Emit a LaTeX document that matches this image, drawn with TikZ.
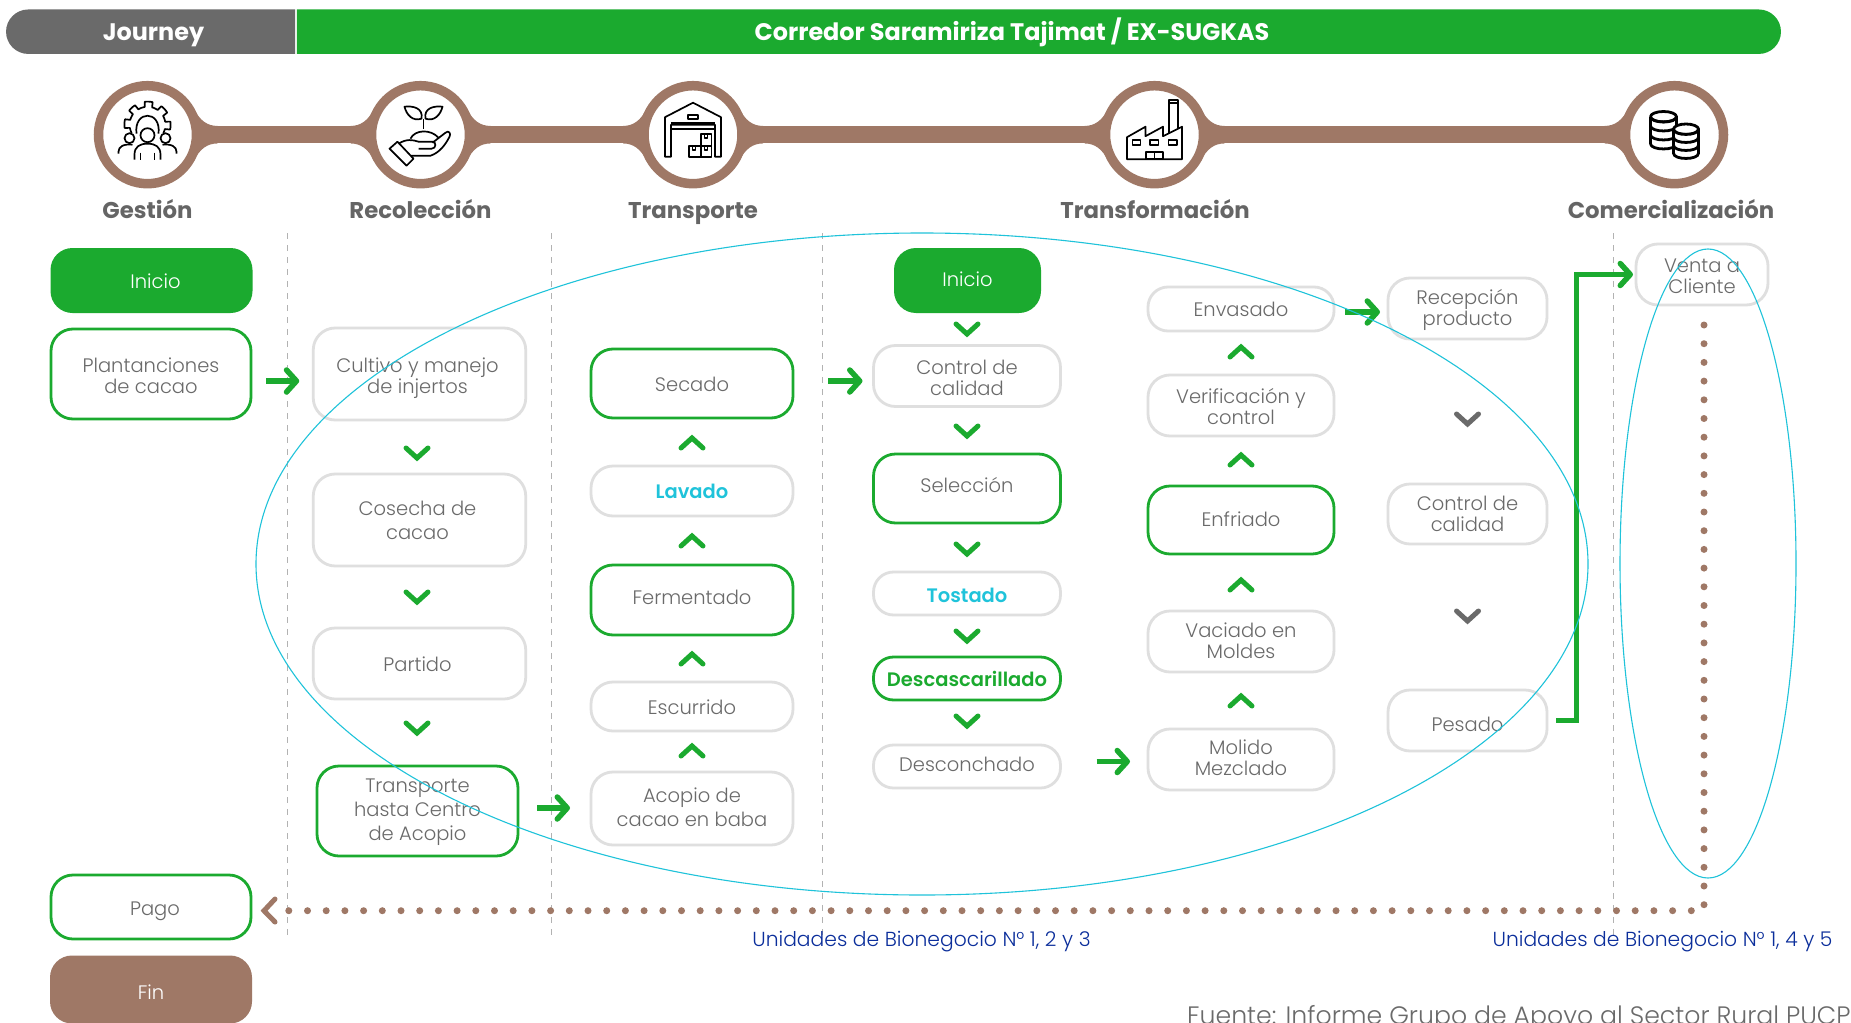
\documentclass[tikz,border=0pt]{standalone}
\usepackage{fontspec}
\setmainfont{Poppins Light}[BoldFont={Poppins SemiBold}]
\newfontface\pbold{Poppins Bold}
\usetikzlibrary{arrows.meta,shapes.misc}
\definecolor{gr}{HTML}{1BAA2F}
\definecolor{br}{HTML}{9F7866}
\definecolor{dk}{HTML}{6A6A6A}
\definecolor{tx}{HTML}{6A6A6A}
\definecolor{bd}{HTML}{DFDFDF}
\definecolor{cy}{HTML}{1FC3DA}
\definecolor{bl}{HTML}{0B2E9B}
\newsavebox{\mvb}
\newcommand{\mv}[2]{\sbox{\mvb}{\begin{tabular}{@{}c@{}}#2\end{tabular}}\raisebox{\dimexpr #1pt-3.3pt+0.5\dp\mvb-0.5\ht\mvb\relax}[0pt][0pt]{\usebox{\mvb}}}
\tikzset{
 base/.style={rectangle,rounded corners=22pt,minimum width=#1,inner sep=0pt,outer sep=0pt,align=center,text=tx,
   font=\fontsize{19.5}{21}\selectfont},
 wide/.style={font=\fontsize{19.5}{24}\selectfont},
 gbox/.style={base=#1,draw=bd,line width=2.8pt},
 vbox/.style={base=#1,draw=gr,line width=2.8pt},
 ibox/.style={base=#1,fill=gr,text=white},
 fbox/.style={base=#1,fill=br,text=white},
 stage/.style={circle,draw=br,fill=white,line width=9.5pt,minimum size=98pt,inner sep=0pt,outer sep=0pt},
 slabel/.style={font=\fontsize{22.8}{24}\pbold,text=dk!95!black,anchor=base},
 head/.style={font=\fontsize{23.9}{24}\pbold,text=white,minimum height=44.5pt,inner sep=0pt,outer sep=0pt,text height=21pt,text depth=4.2pt},
 vline/.style={draw=black!30,line width=1.6pt,dash pattern=on 6pt off 6pt},
 goarrow/.style={draw=gr,line width=5.5pt,-{Straight Barb[length=10pt,width=22pt,round]}},
 chev/.style={line width=5pt,line cap=round,draw=#1},
 dots/.style={draw=br,line width=7pt,line cap=round,dash pattern=on 0pt off 18.7pt},
 oval/.style={draw=cy,line width=1.1pt},
 ico/.style={draw=black,line width=1.7pt,line join=round},
 unit/.style={font=\fontsize{20.3}{22}\selectfont,text=bl,inner sep=0pt},
}
\newcommand{\chevd}[3]{\draw[chev=#3] (#1-11,#2-5) -- (#1,#2+5) -- (#1+11,#2-5);}
\newcommand{\chevu}[3]{\draw[chev=#3] (#1-11,#2+5) -- (#1,#2-5) -- (#1+11,#2+5);}
\begin{document}
\begin{tikzpicture}[x=1pt,y=-1pt]
\useasboundingbox (0,0) rectangle (1851,1022);
\clip (0,0) rectangle (1851,1022);
\fill[white] (0,0) rectangle (1851,1022);
% header
\node[head,rounded rectangle,rounded rectangle right arc=none,fill=dk,minimum width=289pt] (journey) at (152.5,31.7) {\hspace*{2pt}Journey};
\node[head,rounded rectangle,rounded rectangle left arc=none,fill=gr,minimum width=1484pt] (corr) at (1037,31.7) {\hspace*{-50pt}Corredor Saramiriza Tajimat / EX-SUGKAS};
% timeline
\coordinate (c1) at (147.5,134.7);
\coordinate (c2) at (420.5,134.7);
\coordinate (c3) at (693,134.7);
\coordinate (c4) at (1154.5,134.7);
\coordinate (c5) at (1674.5,134.7);
\draw[br,line width=17.5pt] (c1) -- (c5);
\foreach \c in {c1,c2,c3,c4}
 \fill[br,shift={(\c)}] (46,-27) .. controls (52,-14) and (60,-8.75) .. (70,-8.75) -- (70,8.75) .. controls (60,8.75) and (52,14) .. (46,27) -- cycle;
\foreach \c in {c2,c3,c4,c5}
 \fill[br,shift={(\c)}] (-46,-27) .. controls (-52,-14) and (-60,-8.75) .. (-70,-8.75) -- (-70,8.75) .. controls (-60,8.75) and (-52,14) .. (-46,27) -- cycle;
\node[stage] (s1) at (c1) {};
\node[stage] (s2) at (c2) {};
\node[stage] (s3) at (c3) {};
\node[stage] (s4) at (c4) {};
\node[stage] (s5) at (c5) {};
% icon 1
\begin{scope}[shift={(c1)},ico]
 \draw plot[domain=-28:208,samples=120] ({(20.5+2.6*sign(cos(8*\x+20)))*cos(\x)},{-10-(20.5+2.6*sign(cos(8*\x+20)))*sin(\x)});
 \draw (-11,-1) .. controls (-14,-25) and (14,-25) .. (11,-1);
 \draw[fill=white] (0,0.5) circle[radius=7];
 \draw (-13,25) -- (-13,20) .. controls (-13,12) and (-8,9) .. (0,9) .. controls (8,9) and (13,12) .. (13,20) -- (13,25);
 \draw (-7,18) -- (-7,25) (7,18) -- (7,25);
 \draw[fill=white] (-18,3.5) circle[radius=5];
 \draw[fill=white] (18,3.5) circle[radius=5];
 \draw (-29,19) -- (-29,17) .. controls (-29,12) and (-24,9) .. (-15,10);
 \draw (29,19) -- (29,17) .. controls (29,12) and (24,9) .. (15,10);
\end{scope}
% icon 2
\begin{scope}[shift={(c2)},ico]
 \draw (3,-6) -- (3,-16);
 \draw (1,-16) .. controls (-8,-13) and (-14,-20) .. (-16,-28) .. controls (-8,-29) and (3,-27) .. (1,-16) -- cycle;
 \draw (5,-16) .. controls (14,-13) and (20,-20) .. (22,-28) .. controls (14,-29) and (3,-27) .. (5,-16) -- cycle;
 \draw (-10,4) .. controls (-6,-5) and (10,-6) .. (18,3);
 \draw (-31,14) -- (-23,7) -- (-7,24) -- (-14,31) -- cycle;
 \draw (-22,9) .. controls (-14,4) and (-8,5) .. (-2,7) -- (12,7) .. controls (16,7) and (16,14) .. (11,14) -- (-2,14);
 \draw (12,8) -- (25,-2) .. controls (28,-5) and (31,-1) .. (29,2) .. controls (25,10) and (19,18) .. (10,21) -- (-10,21);
\end{scope}
% icon 3
\begin{scope}[shift={(c3)},ico]
 \draw (-22,22) -- (-28,22) -- (-28,-17.5) -- (0,-32) -- (28,-17.5) -- (28,22) -- (22,22) -- (22,-10) -- (-22,-10) -- cycle;
 \draw (-22,-12) -- (22,-12) (-22,-6) -- (22,-6);
 \draw (-5,-20) rectangle (5,-15.5);
 \draw (-4,11) rectangle (8,22) (8,11) rectangle (18.5,22) (8,-0.5) rectangle (18.5,11);
 \draw (-0.5,11) -- (-0.5,15) -- (2.5,15) -- (2.5,11) (11.5,11) -- (11.5,15) -- (14.5,15) -- (14.5,11) (11.5,-0.5) -- (11.5,3.5) -- (14.5,3.5) -- (14.5,-0.5);
\end{scope}
% icon 4
\begin{scope}[shift={(c4)},ico]
 \draw (-27.5,24.5) -- (-27.5,2.5) -- (-9,-8) -- (-9,1.5) -- (8.5,-8) -- (8.5,1.5) -- (27.5,-8) -- (27.5,24.5) -- cycle;
 \draw (14.5,-2) -- (14.5,-34.5) -- (23.5,-34.5) -- (23.5,-6);
 \draw (14.5,-32) -- (23.5,-32);
 \draw (-22,5.5) rectangle (-14,10.5) (-4.5,5.5) rectangle (4,10.5) (14,5.5) rectangle (22.5,10.5);
 \draw (-8.5,17.5) rectangle (8.5,24.5) (0,17.5) -- (0,24.5);
\end{scope}
% icon 5
\begin{scope}[shift={(c5)},ico,line width=2.8pt]
 \draw (-11,-18) ellipse[x radius=13,y radius=5.2];
 \foreach \yy in {-18,-9,0,9} \draw (-24,\yy) .. controls (-24,\yy+7) and (2,\yy+7) .. (2,\yy);
 \draw (-24,-18) -- (-24,9) (2,-18) -- (2,-5);
 \draw[fill=white] (11.5,-5.5) ellipse[x radius=12.5,y radius=5.2];
 \draw[fill=white] (-1,-5.5) -- (-1,18.5) .. controls (-1,25.5) and (24,25.5) .. (24,18.5) -- (24,-5.5) .. controls (24,1.5) and (-1,1.5) .. (-1,-5.5);
 \foreach \yy in {2.5,10.5} \draw (-1,\yy) .. controls (-1,\yy+7) and (24,\yy+7) .. (24,\yy);
\end{scope}
% stage labels
\node[slabel] (l1) at (147.5,218) {Gestión};
\node[slabel] (l2) at (420.5,218) {Recolección};
\node[slabel] (l3) at (693,218) {Transporte};
\node[slabel] (l4) at (1155,218) {Transformación};
\node[slabel] (l5) at (1671,218) {Comercialización};
% dashed
\foreach \xx in {287.5,551.5,822.5,1613.5} \draw[vline] (\xx,233) -- (\xx,937);
% column 1
\node[ibox=202pt,minimum height=65pt] (ini1) at (151.5,280.5) {\hspace*{8pt}\mv{0}{Inicio}};
\node[vbox=200pt,minimum height=90pt] (plan) at (151,374) {\mv{-1.4}{Plantanciones\\de cacao}};
\node[vbox=200pt,minimum height=64pt] (pago) at (151,907) {\hspace*{8pt}\mv{-1}{Pago}};
\node[fbox=202pt,minimum height=68pt] (fin) at (151,989.5) {\mv{-2.1}{Fin}};
% column 2
\node[gbox=212.5pt,minimum height=92pt] (cult) at (419.5,374) {\hspace*{-4pt}\mv{-1.4}{Cultivo y manejo\\de injertos}};
\node[gbox=212.5pt,minimum height=92pt,wide] (cose) at (419.5,520) {\hspace*{-4pt}\mv{0.6}{Cosecha de\\cacao}};
\node[gbox=212.5pt,minimum height=71pt] (part) at (419.5,663.5) {\hspace*{-4pt}\mv{0}{Partido}};
\node[vbox=201pt,minimum height=90pt,wide] (tran) at (417.5,811) {\mv{2.4}{Transporte\\hasta Centro\\de Acopio}};
% column 3
\node[vbox=202pt,minimum height=69pt] (seca) at (692,383.5) {\mv{0}{Secado}};
\node[gbox=202pt,minimum height=50pt] (lava) at (692,491) {\mv{0}{\textcolor{cy}{\textbf{Lavado}}}};
\node[vbox=202pt,minimum height=70pt] (ferm) at (692,600) {\mv{2.7}{Fermentado}};
\node[gbox=202pt,minimum height=49pt] (escu) at (692,706.5) {\mv{-0.5}{Escurrido}};
\node[gbox=202pt,minimum height=73pt,wide] (acop) at (692,808.5) {\mv{2.5}{Acopio de\\cacao en baba}};
% column 4
\node[ibox=147pt,minimum height=65pt] (ini2) at (967.5,280.5) {\mv{2}{Inicio}};
\node[gbox=187pt,minimum height=61pt] (cali) at (967,376) {\mv{-1.8}{Control de\\calidad}};
\node[vbox=187pt,minimum height=69pt] (sele) at (967,488.5) {\mv{3.5}{Selección}};
\node[gbox=187pt,minimum height=43pt,rounded corners=20pt] (tost) at (967,593.5) {\mv{-1.5}{\textcolor{cy}{\textbf{Tostado}}}};
\node[vbox=187pt,minimum height=43pt,rounded corners=20pt] (desc) at (967,678.5) {\mv{0}{\textcolor{gr}{\textbf{Descascarillado}}}};
\node[gbox=187pt,minimum height=43pt,rounded corners=20pt] (desn) at (967,766.5) {\mv{2.7}{Desconchado}};
% column 5
\node[gbox=186pt,minimum height=44pt,rounded corners=20pt] (enva) at (1241,309) {\mv{0}{Envasado}};
\node[gbox=186pt,minimum height=61pt] (veri) at (1241,405.5) {\mv{-1.2}{Verificación y\\control}};
\node[vbox=186pt,minimum height=68pt] (enfr) at (1241,520) {\mv{0.6}{Enfriado}};
\node[gbox=186pt,minimum height=61pt] (vaci) at (1241,641.5) {\mv{1}{Vaciado en\\Moldes}};
\node[gbox=186pt,minimum height=61pt] (moli) at (1241,759.5) {\mv{2.2}{Molido\\Mezclado}};
% column 6
\node[gbox=159pt,minimum height=61pt] (rece) at (1467.5,308.5) {\mv{1}{Recepción\\producto}};
\node[gbox=159pt,minimum height=60pt] (cal2) at (1467.5,514) {\mv{1}{Control de\\calidad}};
\node[gbox=159pt,minimum height=61pt] (pesa) at (1467.5,720.5) {\mv{-3}{Pesado}};
% column 7
\node[gbox=132pt,minimum height=61pt] (vent) at (1702,274.5) {\mv{-0.5}{Venta a\\Cliente}};
% chevrons
\foreach \yy in {453,597,728} {\chevd{417}{\yy}{gr}}
\foreach \yy in {443,541,659,751} {\chevu{692}{\yy}{gr}}
\foreach \yy in {329,431,549,636,721} {\chevd{967}{\yy}{gr}}
\foreach \yy in {352,460,585,701} {\chevu{1241}{\yy}{gr}}
\foreach \yy in {419,616} {\chevd{1467.5}{\yy}{dk}}
% arrows
\draw[goarrow] ([xshift=15pt,yshift=-7pt]plan.east) -- ([xshift=-14pt,yshift=-7pt]plan.east -| cult.west);
\draw[goarrow] ([xshift=19pt,yshift=3pt]tran.east) -- ([xshift=-21pt,yshift=3pt]tran.east -| acop.west);
\draw[goarrow] ([xshift=35pt,yshift=2.5pt]seca.east) -- ([xshift=-11pt,yshift=2.5pt]seca.east -| cali.west);
\draw[goarrow] ([xshift=36pt,yshift=5pt]desn.east) -- ([xshift=-18pt,yshift=5pt]desn.east -| moli.west);
\draw[goarrow] ([xshift=11pt,yshift=-3pt]enva.east) -- ([xshift=-8pt,yshift=-3pt]enva.east -| rece.west);
\draw[goarrow] ([xshift=9pt]pesa.east) -- ++(20.5,0) |- ([xshift=-3pt]vent.west);
% dotted
\draw[dots] ([xshift=2pt,yshift=-20pt]vent.south) |- ([xshift=28pt,yshift=-3.7pt]pago.east);
\draw[chev=br] (275,899) -- (264,910.7) -- (275,922);
% units
\node[unit] (u1) at (921.5,942) {Unidades de Bionegocio N° 1, 2 y 3};
\node[unit] (u2) at (1662.5,942) {Unidades de Bionegocio N° 1, 4 y 5};
\node[anchor=base west,inner sep=0pt,text=tx,font=\fontsize{25.2}{27}\selectfont] (src) at (1187,1024) {Fuente: Informe Grupo de Apoyo al Sector Rural PUCP};
% ovals
\draw[oval] (922,564) ellipse[x radius=666,y radius=331];
\draw[oval] (1708,563.5) ellipse[x radius=88,y radius=314.5];
\end{tikzpicture}
\end{document}
